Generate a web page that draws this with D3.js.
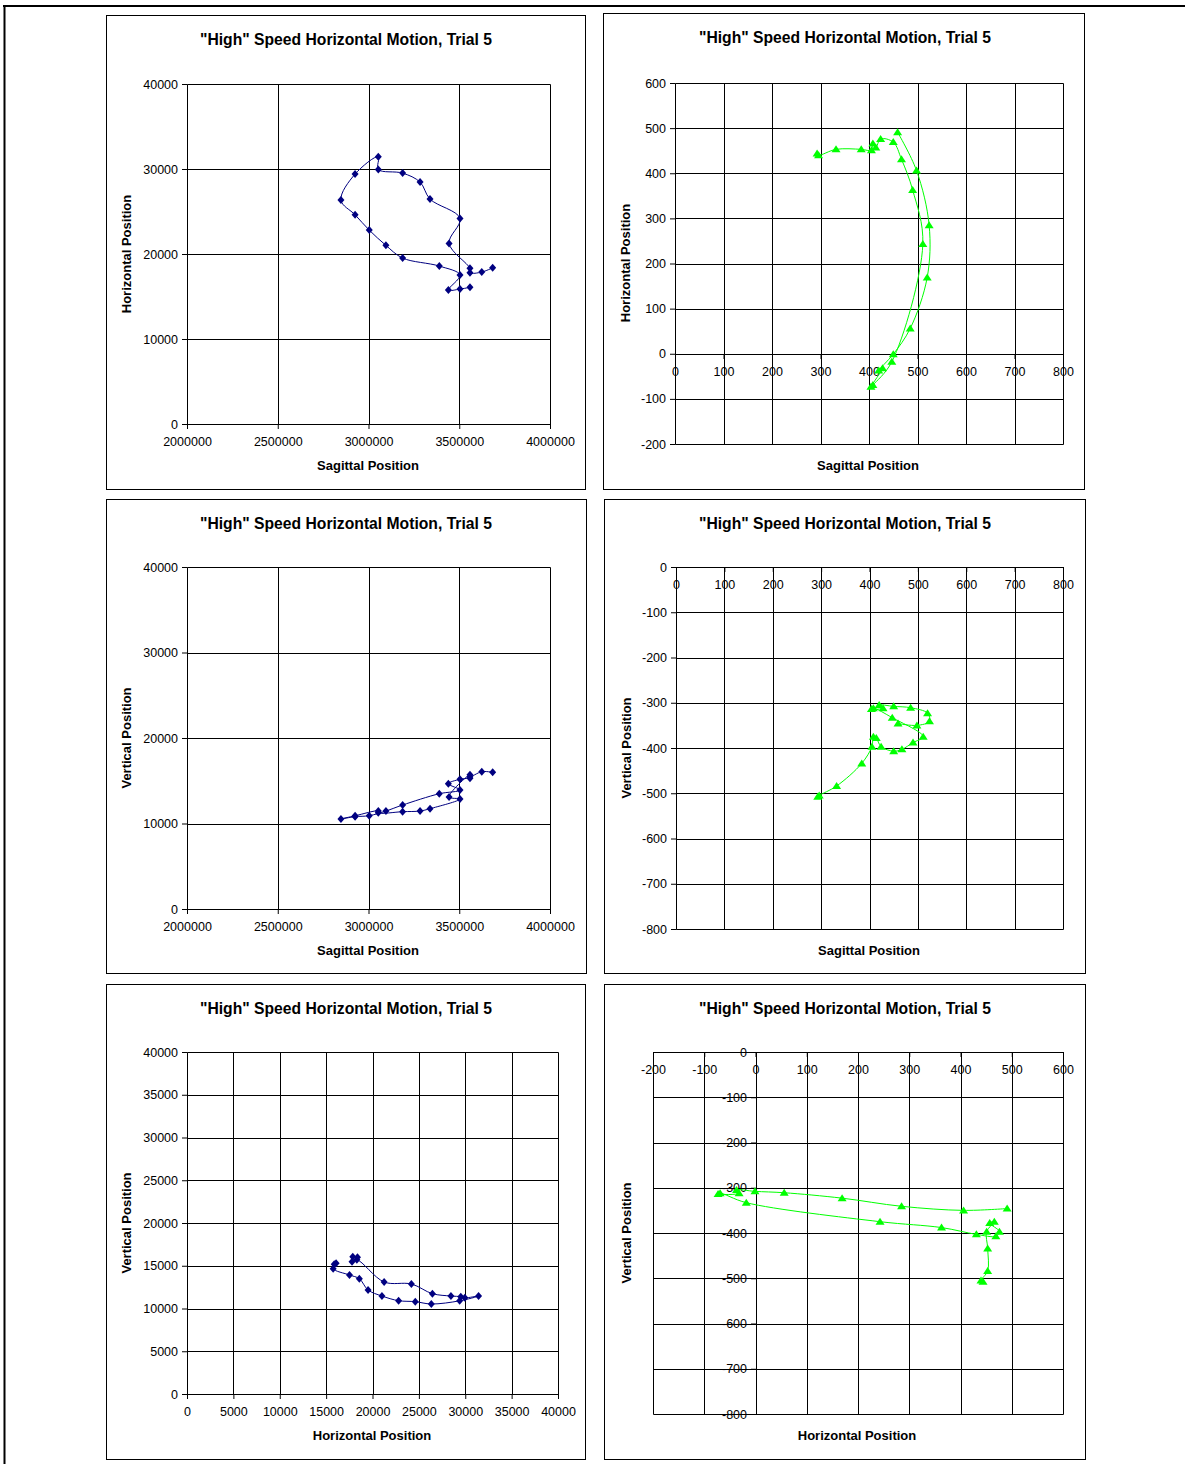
<!DOCTYPE html>
<html>
<head>
<meta charset="utf-8">
<script src="https://cdn.jsdelivr.net/npm/d3@7"></script>
<style>
  body { margin: 0; background: #fff; }
  text { font-family: "Liberation Sans", Arial, sans-serif; fill: #000; }
</style>
</head>
<body>
<script>
// Trial 5, first sensor (raw units)
const sagittalA = [3559000, 3504000, 3440000, 3504000, 3390000, 3188000, 3096000, 3004000, 2926000, 2848000, 2926000,
                   3054000, 3054000, 3188000, 3284000, 3339000, 3504000, 3444000, 3559000, 3559000, 3624000, 3684000];
const horizontalA = [16076, 15876, 15758, 17522, 18581, 19522, 21015, 22814, 24614, 26342, 29400,
                     31435, 29953, 29518, 28459, 26460, 24190, 21250, 18310, 17793, 17875, 18380];
const verticalA = [15300, 15166, 14650, 13918, 13484, 12163, 11460, 10913, 10800, 10526, 10900,
                   11460, 11250, 11382, 11460, 11733, 12865, 13100, 15700, 15470, 16060, 15990];

// Trial 5, second sensor (calibrated units)
const sagittalB = [293, 296, 332, 384, 405, 408, 414, 424, 450, 467, 490,
                   511, 447, 408, 404, 428, 420, 450, 485, 520, 524, 498, 459];
const horizontalB = [444, 440, 453, 453, 451, 466, 457, 476, 469, 431, 363,
                     243, -18, -69, -73, -32, -37, -1, 56, 169, 285, 406, 491];
const verticalB = [-508, -505, -484, -434, -397, -375, -378, -397, -407, -403, -388,
                   -375, -333, -312, -314, -312, -305, -308, -311, -323, -341, -350, -346];

const chartTitle = '"High" Speed Horizontal Motion, Trial 5';

const svg = d3.select("body").append("svg")
    .attr("width", 1185)
    .attr("height", 1464);

// page frame
svg.append("line").attr("x1", 3).attr("x2", 1185).attr("y1", 6).attr("y2", 6)
    .attr("stroke", "#000").attr("stroke-width", 2);
svg.append("line").attr("x1", 4.5).attr("x2", 4.5).attr("y1", 5).attr("y2", 1464)
    .attr("stroke", "#000").attr("stroke-width", 2);

const diamond = "M0,-4L3.5,0L0,4L-3.5,0Z";
const triangle = "M0,-4L4.5,3L-4.5,3Z";

const panels = [
    { box: [106, 15, 585, 489], plot: [187, 84, 550, 424],
      xDomain: [2000000, 4000000], xStep: 500000, yDomain: [0, 40000], yStep: 10000,
      xCross: 0, yCross: 2000000, xs: sagittalA, ys: horizontalA,
      color: "#000080", marker: diamond,
      title: [346, 45], xLabel: ["Sagittal Position", 368, 470], yLabel: ["Horizontal Position", 131, 254] },
    { box: [603, 13, 1084, 489], plot: [675, 83, 1063, 444],
      xDomain: [0, 800], xStep: 100, yDomain: [-200, 600], yStep: 100,
      xCross: 0, yCross: 0, xs: sagittalB, ys: horizontalB,
      color: "#00ff00", marker: triangle,
      title: [845, 43], xLabel: ["Sagittal Position", 868, 470], yLabel: ["Horizontal Position", 630, 263] },
    { box: [106, 499, 586, 973], plot: [187, 567, 550, 909],
      xDomain: [2000000, 4000000], xStep: 500000, yDomain: [0, 40000], yStep: 10000,
      xCross: 0, yCross: 2000000, xs: sagittalA, ys: verticalA,
      color: "#000080", marker: diamond,
      title: [346, 529], xLabel: ["Sagittal Position", 368, 955], yLabel: ["Vertical Position", 131, 738] },
    { box: [604, 499, 1085, 973], plot: [676, 567, 1063, 929],
      xDomain: [0, 800], xStep: 100, yDomain: [-800, 0], yStep: 100,
      xCross: 0, yCross: 0, xs: sagittalB, ys: verticalB,
      color: "#00ff00", marker: triangle,
      title: [845, 529], xLabel: ["Sagittal Position", 869, 955], yLabel: ["Vertical Position", 631, 748] },
    { box: [106, 984, 585, 1459], plot: [187, 1052, 558, 1394],
      xDomain: [0, 40000], xStep: 5000, yDomain: [0, 40000], yStep: 5000,
      xCross: 0, yCross: 0, xs: horizontalA, ys: verticalA,
      color: "#000080", marker: diamond,
      title: [346, 1014], xLabel: ["Horizontal Position", 372, 1440], yLabel: ["Vertical Position", 131, 1223] },
    { box: [604, 984, 1085, 1459], plot: [653, 1052, 1063, 1414],
      xDomain: [-200, 600], xStep: 100, yDomain: [-800, 0], yStep: 100,
      xCross: 0, yCross: 0, xs: horizontalB, ys: verticalB,
      color: "#00ff00", marker: triangle,
      title: [845, 1014], xLabel: ["Horizontal Position", 857, 1440], yLabel: ["Vertical Position", 631, 1233] }
];

function drawPanel(p) {
    const g = svg.append("g");

    g.append("rect")
        .attr("x", p.box[0] + 0.5).attr("y", p.box[1] + 0.5)
        .attr("width", p.box[2] - p.box[0]).attr("height", p.box[3] - p.box[1])
        .attr("fill", "#fff").attr("stroke", "#000");

    const x = d3.scaleLinear().domain(p.xDomain).range([p.plot[0], p.plot[2]]);
    const y = d3.scaleLinear().domain(p.yDomain).range([p.plot[3], p.plot[1]]);
    const xTicks = d3.range(p.xDomain[0], p.xDomain[1] + p.xStep / 2, p.xStep);
    const yTicks = d3.range(p.yDomain[0], p.yDomain[1] + p.yStep / 2, p.yStep);
    const px = v => Math.round(x(v)) + 0.5;
    const py = v => Math.round(y(v)) + 0.5;

    // gridlines
    const grid = g.append("g").attr("stroke", "#000").attr("stroke-width", 1);
    grid.selectAll(".gx").data(xTicks).join("line")
        .attr("x1", px).attr("x2", px)
        .attr("y1", py(p.yDomain[0])).attr("y2", py(p.yDomain[1]));
    grid.selectAll(".gy").data(yTicks).join("line")
        .attr("y1", py).attr("y2", py)
        .attr("x1", px(p.xDomain[0])).attr("x2", px(p.xDomain[1]));

    // axes
    const fmt = d => String(d);
    const xAxis = g.append("g")
        .attr("transform", `translate(0,${Math.round(y(p.xCross))})`)
        .call(d3.axisBottom(x).tickValues(xTicks).tickFormat(fmt).tickSize(5).tickSizeOuter(0).tickPadding(8));
    const yAxis = g.append("g")
        .attr("transform", `translate(${Math.round(x(p.yCross))},0)`)
        .call(d3.axisLeft(y).tickValues(yTicks).tickFormat(fmt).tickSize(5).tickSizeOuter(0).tickPadding(4));
    [xAxis, yAxis].forEach(a => {
        a.attr("font-family", null).attr("font-size", null);
        a.selectAll("text").style("font-size", "12.5px");
        a.selectAll("line, path").attr("stroke", "#000");
    });

    // series
    const pts = p.xs.map((v, i) => [x(v), y(p.ys[i])]);
    g.append("path")
        .attr("d", d3.line().curve(d3.curveCatmullRom.alpha(0.5))(pts))
        .attr("fill", "none")
        .attr("stroke", p.color)
        .attr("stroke-width", 1);
    g.selectAll(".mk").data(pts).join("path")
        .attr("transform", d => `translate(${d[0]},${d[1]})`)
        .attr("d", p.marker)
        .attr("fill", p.color);

    // titles
    g.append("text")
        .attr("x", p.title[0]).attr("y", p.title[1])
        .attr("text-anchor", "middle")
        .style("font-size", "15.7px").style("font-weight", "bold")
        .text(chartTitle);
    g.append("text")
        .attr("x", p.xLabel[1]).attr("y", p.xLabel[2])
        .attr("text-anchor", "middle")
        .style("font-size", "13px").style("font-weight", "bold")
        .text(p.xLabel[0]);
    g.append("text")
        .attr("transform", `translate(${p.yLabel[1]},${p.yLabel[2]}) rotate(-90)`)
        .attr("text-anchor", "middle")
        .style("font-size", "13px").style("font-weight", "bold")
        .text(p.yLabel[0]);
}

panels.forEach(drawPanel);
</script>
</body>
</html>
